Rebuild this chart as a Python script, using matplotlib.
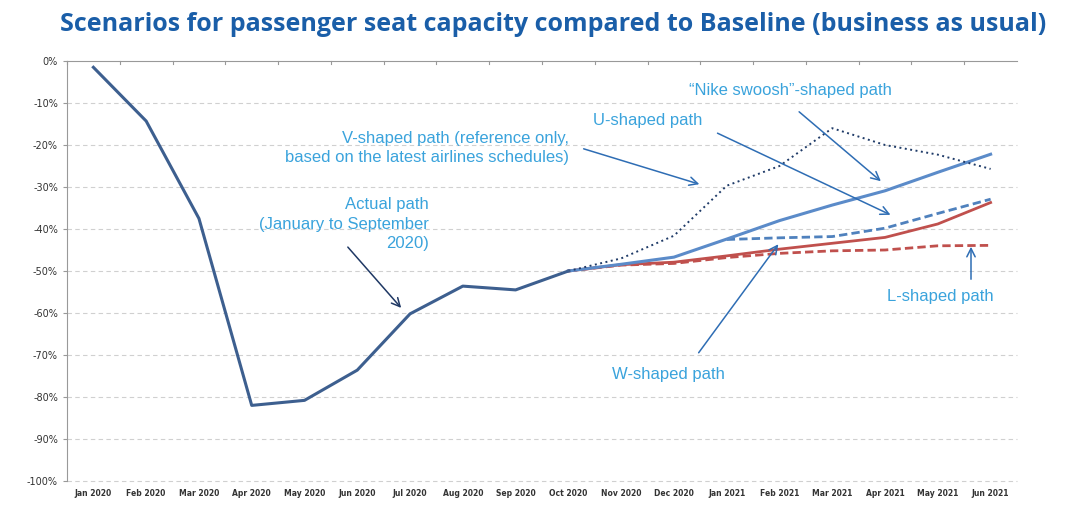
import matplotlib.pyplot as plt
from matplotlib.ticker import FuncFormatter

# months on the category axis
months = ["Jan 2020", "Feb 2020", "Mar 2020", "Apr 2020", "May 2020", "Jun 2020",
          "Jul 2020", "Aug 2020", "Sep 2020", "Oct 2020", "Nov 2020", "Dec 2020",
          "Jan 2021", "Feb 2021", "Mar 2021", "Apr 2021", "May 2021", "Jun 2021"]

# actual path, Jan - Oct 2020 (% vs baseline)
actual = [-1.5, -14.3, -37.5, -82.0, -80.8, -73.6, -60.2, -53.6, -54.5, -50.0]

# scenarios, Oct 2020 - Jun 2021
scen_months = months[9:]
v_shaped = [-50.0, -47.0, -41.6, -29.7, -25.0, -16.0, -20.0, -22.3, -25.7]
nike = [-50.0, -48.4, -46.7, -42.4, -38.0, -34.3, -30.9, -26.5, -22.2]
u_shaped = [-50.0, -48.4, -46.7, -42.5, -42.1, -41.8, -39.8, -36.3, -32.9]
w_shaped = [-50.0, -48.5, -47.9, -46.4, -44.8, -43.4, -42.0, -38.8, -33.7]
l_shaped = [-50.0, -48.6, -48.2, -46.8, -45.8, -45.2, -45.0, -44.0, -43.9]

txt_col = "#3aa3dc"
arr_col = "#2e6db4"

fig = plt.figure(figsize=(10.76, 5.12), dpi=100)
ax = fig.add_axes([67 / 1076, 1 - 481 / 512, 950 / 1076, 420 / 512])

x_act = list(range(len(actual)))
x_sc = [months.index(m) for m in scen_months]

ax.plot(x_sc, l_shaped, color="#c0504d", lw=2, ls=(0, (3, 1.5)))
ax.plot(x_sc, w_shaped, color="#c0504d", lw=2)
ax.plot(x_sc[3:], u_shaped[3:], color="#4f81bd", lw=2, ls=(0, (3, 1.5)))
ax.plot(x_sc, nike, color="#5b8bc9", lw=2.2)
ax.plot(x_sc, v_shaped, color="#1f3b68", lw=1.4, ls=(0, (1, 1.8)))
ax.plot(x_act, actual, color="#3d5f8f", lw=2.2)

ax.set_xlim(-0.5, len(months) - 0.5)
ax.set_ylim(-100, 0)
ax.set_yticks(range(-100, 1, 10))
ax.yaxis.set_major_formatter(FuncFormatter(lambda v, p: f"{v:.0f}%"))
ax.set_xticks(range(len(months)))
ax.set_xticklabels(months, fontsize=5.5, color="#333333", fontweight="bold")
ax.tick_params(axis="x", length=0, pad=6)
ax.tick_params(axis="y", labelsize=7, colors="#333333", length=3, direction="out", color="#999999")
for lbl in ax.get_yticklabels():
    lbl.set_color("#333333")
for v in range(-100, 0, 10):
    ax.axhline(v, color="#d0d0d0", lw=0.8, ls=(0, (4, 3)), zorder=0, clip_on=False)
for b in range(len(months)):
    ax.plot([b - 0.5, b - 0.5], [0, -0.8], color="#999999", lw=0.8, clip_on=False)

for s in ["right", "bottom"]:
    ax.spines[s].set_visible(False)
ax.spines["left"].set_color("#999999")
ax.spines["top"].set_color("#999999")

fig.text(0.514, 0.952, "Scenarios for passenger seat capacity compared to Baseline (business as usual)",
         ha="center", va="center", fontsize=18, fontweight="bold", color="#1a5ea8",
         family="Open Sans")


def note(text, xy_txt, ha="left", ma=None):
    fig.text(xy_txt[0] / 1076, 1 - xy_txt[1] / 512, text, ha=ha, va="center",
             fontsize=12, color=txt_col, family="Liberation Sans",
             multialignment=ma or ha, linespacing=1.35)


def arrow(p0, p1, col=arr_col):
    fig.add_artist(plt.matplotlib.patches.FancyArrowPatch(
        (p0[0] / 1076, 1 - p0[1] / 512), (p1[0] / 1076, 1 - p1[1] / 512),
        transform=fig.transFigure, arrowstyle="->,head_length=6,head_width=3",
        color=col, lw=1.1))


note("Actual path\n(January to September\n2020)", (429, 224), ha="right")
arrow((346, 245), (403, 310), "#1f3864")
note("V-shaped path (reference only,\nbased on the latest airlines schedules)", (569, 148), ha="right")
arrow((581, 148), (702, 185))
note("U-shaped path", (593, 120))
arrow((715, 132), (893, 216))
note("\u201cNike swoosh\u201d-shaped path", (689, 90))
arrow((797, 110), (883, 183))
note("W-shaped path", (612, 375))
arrow((697, 355), (780, 242))
note("L-shaped path", (887, 296))
arrow((971, 282), (971, 244))

fig.savefig("out.png", dpi=100)
